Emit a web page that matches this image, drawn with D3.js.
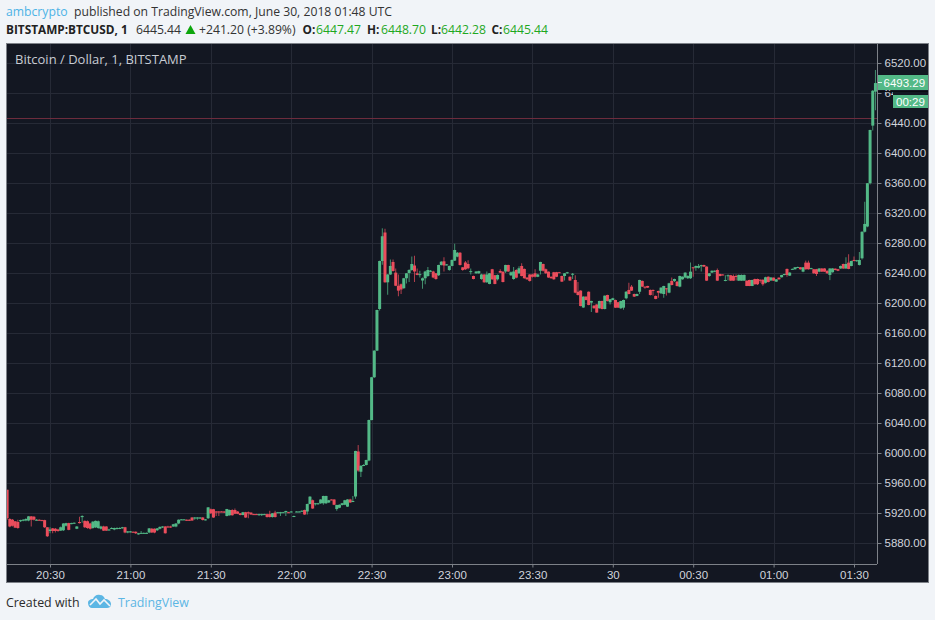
<!DOCTYPE html>
<html>
<head>
<meta charset="utf-8">
<title>BTCUSD</title>
<script src="https://cdn.jsdelivr.net/npm/d3@7"></script>
<style>
	html, body { margin: 0; padding: 0; background: #f1f4f8; }
	svg { display: block; }
	text { font-family: "Open Sans", sans-serif; }
	.axis text { font-family: "Liberation Sans", Arial, sans-serif; font-size: 11.5px; fill: #d1d4dc; }
</style>
</head>
<body>
<svg id="chart" width="935" height="620"></svg>
<script>
// one candle per minute, ten to a line
const opens = [
	5951,5912,5911,5909,5908,5909,5910,5910,5910,5915.5,
	5915,5910.5,5911,5910.5,5910.5,5901,5896,5899.5,5899,5898,
	5896.5,5897,5903,5906.5,5906,5906,5899,5908,5914.5,5909.5,
	5909,5906,5900,5901,5900,5899,5902,5902,5897,5899.5,
	5898,5899,5899,5900,5901,5894,5894.5,5895,5895,5891.5,
	5893,5893,5893,5894,5899,5899,5897,5899,5901,5902,
	5902,5902,5902,5902,5906,5911,5911,5911,5911,5914,
	5913,5913,5913,5914,5910.7,5913,5925,5925,5922,5922,
	5922,5922,5916,5917,5924,5924,5922,5919.5,5917.3,5921,
	5921,5920.5,5918.5,5918.5,5918,5918,5918,5918.5,5918.5,5914.6,
	5920.5,5920,5920,5920.5,5921,5921,5921.5,5915,5921.5,5921.5,
	5922.5,5924,5922,5932,5937,5932.5,5932.5,5933,5933,5933,
	5934,5938,5938,5925.3,5927,5930.7,5931,5928.5,5938,5935,
	5942,6002,5975,5983,5984,5990,6044,6101,6136.5,6192,
	6256,6294,6227.6,6238,6254.7,6240.5,6223,6225,6219.7,6233,
	6240,6244,6250,6239.6,6238,6230,6233,6236,6242,6242,
	6239.6,6237,6250.7,6255.6,6251,6244,6249.4,6256.5,6261.8,6267,
	6247.6,6254,6252,6242,6236,6239.6,6239.6,6232,6238,6227.6,
	6225.4,6245,6237,6231.6,6242.7,6241.8,6242,6250.7,6237,6232,
	6244,6239.6,6249.3,6245.4,6233.8,6238,6238,6239.6,6235,6243,
	6252,6245,6241.8,6235,6241,6241,6241,6236,6236,6239.6,
	6235,6238.7,6230.7,6215,6216.5,6194,6208.5,6215,6200.5,6196.5,
	6198,6193,6202.7,6192,6210.7,6201,6204,6204,6201,6193,
	6193.8,6206.3,6217.4,6221.8,6212,6209.4,6215,6229.4,6221.8,6222.7,
	6217.4,6217.4,6209.4,6216,6213,6212,6219.6,6213.8,6229.4,6229.4,
	6228.5,6221.8,6231.6,6234,6233,6233,6247.6,6247,6247,6249,
	6250.7,6248.5,6236,6240.5,6242.7,6244,6238.7,6238,6229.8,6236.5,
	6237,6236,6236,6229.8,6229.8,6229.8,6229.8,6230.7,6222.7,6232,
	6232,6231,6231,6227,6235,6230,6233.8,6228.5,6233.8,6234.3,
	6237.4,6245.4,6236.5,6245,6245,6247.6,6247.6,6241.8,6253.8,6253.8,
	6246,6245,6245,6241.8,6246,6246,6243,6237.4,6241,6245.8,
	6245,6246,6252,6246,6253.8,6249.3,6257.4,6256,6250.7,6259.6,
	6295,6302,6359.7,6436.5,6481.8
];
const highs = [
	5951,5913,5912,5909,5911,5911,5912,5913,5916,5916,
	5916,5912,5911.5,5911,5911,5901,5901,5900,5900,5899,
	5902,5906.5,5907,5907,5907,5907.5,5902.5,5915,5917,5910,
	5910,5907,5909,5910,5910,5903,5903,5902.5,5899,5901,
	5900.5,5901,5901,5901.5,5901.5,5896,5896,5895.5,5895.5,5893.5,
	5896,5894,5894,5900,5900,5899.5,5900,5902,5902.5,5902.5,
	5903,5903,5905.5,5906.5,5911.5,5912,5912,5911.5,5911.5,5914.5,
	5914.5,5914.5,5914.5,5914.5,5912,5928,5926,5925.5,5922.5,5922.5,
	5922.5,5922.5,5925.5,5924.5,5925,5926,5922.5,5920,5921.5,5921.5,
	5922,5921,5919,5919,5919,5919,5919,5919,5923,5920,
	5923,5921.5,5921.5,5921.5,5923,5921.5,5922.5,5916.5,5922.5,5922.5,
	5923.5,5924.5,5932.5,5942.5,5938,5933.5,5933.5,5938.5,5943,5943,
	5937.5,5938.5,5938.5,5931,5931.5,5933.5,5937.5,5938.5,5939,5942.7,
	6003,6010.6,5983.5,5985,5991,6044.5,6101.5,6137,6191,6256.5,
	6299.6,6299,6238.5,6258,6258,6246,6238,6226,6233.5,6240,
	6245,6262,6263,6246,6243,6234,6243,6248,6244,6243,
	6240,6251,6256,6261,6252,6250,6258,6279,6268,6268,
	6248,6256,6257,6246,6236.5,6242.5,6243,6239,6238.5,6242,
	6240,6245.5,6237.5,6238,6245,6242,6251,6251,6242,6248,
	6245,6249,6253,6246,6234.5,6238.5,6239,6245,6239,6255,
	6252.5,6246,6242,6235.5,6241.5,6241.5,6241.5,6236.5,6240,6241.5,
	6235.5,6240,6237,6228,6217,6209,6209,6215.5,6203,6197,
	6198.5,6203,6203,6210,6211,6205.5,6207,6204.5,6201.5,6203,
	6204.5,6216,6227,6224,6212.5,6212.5,6231,6230,6222,6223,
	6218,6218,6210,6216.5,6221,6223,6220,6227,6234,6232.5,
	6229,6236.5,6235.5,6241,6237,6254,6248,6250,6252,6251,
	6251,6249,6240,6243.5,6243.5,6246,6239,6238.5,6237,6238,
	6237.5,6238,6238,6238,6238,6238,6230,6231,6231,6232.5,
	6232.5,6231.5,6231.5,6235,6235.5,6234.5,6234,6232,6234,6237.5,
	6239,6246,6241,6246,6248,6248.5,6248,6248,6256.5,6256.5,
	6247,6245.5,6245.5,6246.5,6246.5,6246.5,6243.5,6246.5,6246.5,6246,
	6245.5,6250,6252.5,6261,6265,6256.5,6262,6257.5,6268,6295.5,
	6335,6360,6431,6484,6510.7
];
const lows = [
	5911,5901,5902,5900,5899,5908,5909,5909,5909,5902,
	5910,5910,5910,5909.5,5900,5888,5893,5893,5894,5895,
	5896,5896,5902,5897,5905,5905.5,5898.5,5906,5907,5900,
	5899,5898,5899,5900,5899,5898,5896,5896,5896.5,5899,
	5897,5898,5898.5,5899,5893,5893,5894,5894,5892,5891,
	5892.5,5892.5,5892.5,5893,5893.5,5893,5896,5898,5900,5892.5,
	5900.5,5900,5901.5,5901,5905,5910.5,5910.5,5909.5,5909.5,5909.5,
	5911,5911,5912,5910,5910,5912,5919,5913.5,5916,5916,
	5921,5920,5915.5,5916.5,5916.5,5918.5,5918.5,5917,5917,5913.5,
	5913,5917.5,5917.5,5917.5,5916,5916,5917.5,5914,5914,5914,
	5914,5919.5,5916,5920,5916,5920,5921,5914.5,5921,5921,
	5922,5917.5,5918,5931.5,5925.5,5930,5931,5932,5931,5932,
	5933.5,5937,5930.5,5923,5926.5,5930,5930.5,5928,5933.5,5934.5,
	5939,5975,5968,5982.5,5983.5,5989,6043.5,6100,6136,6190,
	6251,6227,6211,6237.5,6242,6222.5,6209,6212,6219,6226,
	6228,6243,6228,6237,6234,6219,6225,6235,6241,6233,
	6231,6236,6250,6242,6250,6243,6249,6256,6261,6250,
	6243,6244,6245,6238,6231.5,6239,6239,6231,6227,6227,
	6225,6231,6225,6230,6240,6227.5,6240,6241.5,6236,6231,
	6233,6239,6235.5,6232.5,6231,6228.5,6234,6234,6234.5,6238,
	6242,6239,6233.5,6232.5,6231,6234.5,6240,6228,6230,6239,
	6229.5,6232,6213,6210,6195.5,6193.5,6203.5,6197,6188,6192.5,
	6187,6192.5,6191.5,6191.5,6202,6198,6203.5,6193.5,6193.5,6192,
	6191,6205,6211.5,6216,6208,6209,6212,6221.5,6219,6220,
	6210,6210,6205,6207,6212,6207,6210,6213,6223.5,6228,
	6222,6221,6231,6233,6232,6232,6235,6243,6246,6242,
	6248,6229.5,6235,6240,6241,6229.5,6235.5,6237,6229,6230,
	6229.5,6229.5,6230,6229.5,6229.5,6229.5,6222.5,6222.5,6222.5,6224.5,
	6224,6227,6223,6226,6227.5,6229.5,6229.5,6228,6231,6234,
	6237,6235,6236,6244.5,6244.5,6247,6244.5,6241,6244.5,6244.5,
	6245,6239,6236,6241,6241.5,6241.5,6239,6230.5,6240.5,6243.5,
	6242.5,6245.5,6245.5,6245.5,6245,6249,6255.5,6255,6250,6258,
	6294,6301,6358,6430,6457
];
const closes = [
	5913,5902,5903,5900.5,5900,5910.5,5911,5912,5915.5,5911,
	5911,5911,5910.5,5910,5901,5889,5898,5896,5896,5896,
	5901,5906,5906.5,5897.5,5906.5,5907,5902,5906.5,5916,5901,
	5900,5899,5908.5,5909.5,5909,5902,5896.5,5896.5,5898,5900,
	5900,5900,5900,5901,5894,5895.5,5895.5,5894.5,5893,5893,
	5893.5,5893.5,5893.5,5899.5,5894,5894,5899.5,5901.5,5902,5893,
	5901,5901,5905,5906,5911,5911.5,5911.5,5910,5910,5910,
	5914,5914,5914,5910.7,5911.5,5927.5,5919.5,5914,5921.5,5921.5,
	5921.5,5920.5,5925.3,5924,5917,5919,5919,5917.3,5921,5914,
	5919.5,5918,5918,5918,5918.5,5918.5,5918.5,5914.6,5914.6,5919.6,
	5914.6,5921,5921,5921,5922.7,5920.5,5922,5916,5922,5922,
	5923,5918,5932,5941.8,5926,5933,5933,5938,5942.7,5942.7,
	5937,5937.5,5931,5930.7,5931,5933,5937,5938,5934,5936,
	6002.7,5976.6,5983,5984,5990.7,6044,6101,6136.5,6190.7,6256,
	6289,6227.6,6238,6249.4,6242.7,6223,6216.5,6218,6233,6239.6,
	6244,6252,6242,6237.4,6238.5,6233,6242,6244,6243,6234,
	6232,6250.7,6255,6250,6251.5,6249.4,6257.4,6270.7,6267,6250.7,
	6244,6245,6246.3,6242.5,6232,6242,6242.5,6238,6227.6,6238,
	6239.6,6231.6,6225.4,6237.4,6240.5,6228,6250.7,6242,6241,6242,
	6233.8,6246.3,6236,6233,6231.6,6229.4,6235,6235,6238,6254.7,
	6243,6239.6,6234,6233,6231.6,6235,6240.5,6228.5,6239.6,6241,
	6230,6239,6213.8,6210.7,6196,6208.5,6204,6197.4,6202.7,6193,
	6187.2,6202.7,6192,6209.8,6202.7,6205,6206.3,6193.8,6193.8,6202.7,
	6204,6215,6212,6216.5,6208.5,6212,6230.7,6221.8,6221.5,6220.5,
	6210.7,6217,6205.4,6213.8,6220.5,6222.7,6219,6226.3,6224,6232,
	6222.7,6236,6235,6240.5,6236,6241.8,6247,6249.3,6249.3,6250.5,
	6248.5,6229.8,6239.6,6243,6243,6229.8,6236,6237.5,6230.7,6237,
	6229.8,6229.8,6235.5,6237.4,6237.4,6237.4,6222.7,6222.7,6230.7,6225,
	6225,6230,6225,6234.3,6228,6234,6229.8,6231.6,6231.6,6237.4,
	6238.7,6237.4,6240.5,6245.5,6247.6,6248,6245,6247.6,6245,6245,
	6246.5,6239.6,6238.7,6246,6241.8,6241.8,6239.6,6246,6246,6244,
	6243,6249.3,6246,6252,6245.4,6256,6256,6257,6257.4,6295,
	6305.4,6359.7,6430.7,6483,6493.29
];

const priceTicks = [5880,5920,5960,6000,6040,6080,6120,6160,6200,6240,6280,6320,6360,6400,6440,6480,6520];
const timeTickBars = [16,46,76,106,136,166,196,226,256,286,316];
const timeTickLabels = ["20:30","21:00","21:30","22:00","22:30","23:00","23:30","30","00:30","01:00","01:30"];

const lastPrice = 6493.29;
const prevClose = 6445.44;
const countdown = "00:29";

const width = 935, height = 620;
const panel = { left: 6.5, top: 43.5, right: 928.5, bottom: 582.5 };
const plot = { left: 7, top: 44, right: 877, bottom: 564 };

const green = "#53b987", red = "#eb4d5c";

const svg = d3.select("#chart");

// header lines above the chart
function addText(x, y, str, color, weight, size) {
	return svg.append("text")
		.attr("x", x).attr("y", y)
		.attr("fill", color)
		.attr("font-weight", weight || "normal")
		.attr("font-size", size || 12.2)
		.text(str);
}

addText(6, 16, "ambcrypto", "#4db3e6");
addText(74, 16, "published on TradingView.com, June 30, 2018 01:48 UTC", "#333");
addText(6, 34, "BITSTAMP:BTCUSD, 1", "#222", "bold", 11.8);
addText(136, 34, "6445.44", "#333");
svg.append("path").attr("d", "M190.5,25 L195.5,34 L185.5,34 Z").attr("fill", "#0da60d");
addText(199, 34, "+241.20 (+3.89%)", "#333");
addText(302.5, 34, "O:", "#222", "bold", 11.8);
addText(316, 34, "6447.47", "#1fa81f");
addText(367, 34, "H:", "#222", "bold", 11.8);
addText(381, 34, "6448.70", "#1fa81f");
addText(431, 34, "L:", "#222", "bold", 11.8);
addText(441, 34, "6442.28", "#1fa81f");
addText(491.5, 34, "C:", "#222", "bold", 11.8);
addText(503, 34, "6445.44", "#1fa81f");

// dark panel
svg.append("rect")
	.attr("x", panel.left).attr("y", panel.top)
	.attr("width", panel.right - panel.left)
	.attr("height", panel.bottom - panel.top)
	.attr("fill", "#131722")
	.attr("stroke", "#7d8188");

svg.append("clipPath").attr("id", "plot-clip")
	.append("rect")
	.attr("x", plot.left).attr("y", plot.top)
	.attr("width", plot.right - plot.left)
	.attr("height", plot.bottom - plot.top);

// 20:30 sits at bar 16 and 01:30 at bar 316
const x = d3.scaleLinear().domain([16, 316]).range([50, 854]);
const y = d3.scaleLinear().domain([5880, 6520]).range([543, 63]);

// grid
const grid = svg.append("g").attr("stroke", "#262a36").attr("stroke-width", 1);

grid.selectAll(".grid-h")
	.data(priceTicks)
	.join("line")
	.attr("class", "grid-h")
	.attr("x1", plot.left).attr("x2", plot.right)
	.attr("y1", d => Math.round(y(d)) + 0.5)
	.attr("y2", d => Math.round(y(d)) + 0.5);

grid.selectAll(".grid-v")
	.data(timeTickBars)
	.join("line")
	.attr("class", "grid-v")
	.attr("y1", plot.top).attr("y2", plot.bottom)
	.attr("x1", d => Math.round(x(d)) + 0.5)
	.attr("x2", d => Math.round(x(d)) + 0.5);

// previous close line
svg.append("line")
	.attr("x1", plot.left).attr("x2", plot.right)
	.attr("y1", Math.round(y(prevClose)) - 0.5)
	.attr("y2", Math.round(y(prevClose)) - 0.5)
	.attr("stroke", "#6d2c3d");

// candles
const bars = d3.range(opens.length);
const candleArea = svg.append("g").attr("clip-path", "url(#plot-clip)");
const candleColor = i => closes[i] >= opens[i] ? green : red;

candleArea.selectAll(".wick")
	.data(bars)
	.join("line")
	.attr("class", "wick")
	.attr("x1", x).attr("x2", x)
	.attr("y1", i => y(highs[i]))
	.attr("y2", i => y(lows[i]))
	.attr("stroke", candleColor)
	.attr("stroke-opacity", 0.75);

const candleWidth = 3;
candleArea.selectAll(".body")
	.data(bars)
	.join("rect")
	.attr("class", "body")
	.attr("x", i => x(i) - candleWidth / 2)
	.attr("width", candleWidth)
	.attr("y", i => y(Math.max(opens[i], closes[i])))
	.attr("height", i => Math.max(1, Math.abs(y(opens[i]) - y(closes[i]))))
	.attr("fill", candleColor);

// axes
const axisColor = "#7d8188";

const priceAxis = d3.axisRight(y)
	.tickValues(priceTicks)
	.tickFormat(d3.format(".2f"))
	.tickSize(4)
	.tickPadding(3);

const gPrice = svg.append("g")
	.attr("class", "axis")
	.attr("transform", `translate(${plot.right + 0.5},0)`)
	.call(priceAxis);
gPrice.select(".domain").attr("d", `M0,${plot.top}V${plot.bottom}`).attr("stroke", axisColor);
gPrice.selectAll(".tick line").attr("stroke", axisColor);

const timeAxis = d3.axisBottom(x)
	.tickValues(timeTickBars)
	.tickFormat((d, i) => timeTickLabels[i])
	.tickSize(3)
	.tickPadding(3);

const gTime = svg.append("g")
	.attr("class", "axis")
	.attr("transform", `translate(0,${plot.bottom + 0.5})`)
	.call(timeAxis);
gTime.select(".domain").attr("d", `M${plot.left},0H${plot.right}`).attr("stroke", axisColor);
gTime.selectAll(".tick line").attr("stroke", axisColor);

// last price labels on the scale, they sit over the 6480 tick
svg.append("rect")
	.attr("x", plot.right + 1).attr("y", 75)
	.attr("width", panel.right - plot.right - 1.5).attr("height", 15)
	.attr("fill", green);
svg.append("line")
	.attr("x1", plot.right + 1).attr("x2", plot.right + 5)
	.attr("y1", 82.5).attr("y2", 82.5)
	.attr("stroke", "#d8efe4");
svg.append("text")
	.attr("x", 883.5).attr("y", 87)
	.attr("fill", "#fff")
	.attr("font-size", 11.5)
	.style("font-family", "'Liberation Sans', Arial, sans-serif")
	.text(lastPrice.toFixed(2));

// the part of the tick label that would show right of the "64"
svg.append("rect")
	.attr("x", 893).attr("y", 90)
	.attr("width", panel.right - 893 - 0.5).attr("height", 5)
	.attr("fill", "#131722");
svg.append("line")
	.attr("x1", plot.right + 1).attr("x2", panel.right - 0.5)
	.attr("y1", 91.5).attr("y2", 91.5)
	.attr("stroke", "#0a0c12");

svg.append("rect")
	.attr("x", 893).attr("y", 95)
	.attr("width", panel.right - 893 - 0.5).attr("height", 13)
	.attr("fill", green);
svg.append("text")
	.attr("x", 896).attr("y", 105.5)
	.attr("fill", "#fff")
	.attr("font-size", 11.5)
	.style("font-family", "'Liberation Sans', Arial, sans-serif")
	.text(countdown);

// chart title
addText(15, 64, "Bitcoin / Dollar, 1, BITSTAMP", "#c8ccd4", "normal", 13);

// footer
addText(6, 607, "Created with", "#2b2b2b", "normal", 12.4);
addText(118, 607, "TradingView", "#5cb6e4", "normal", 12.4);

const logo = svg.append("g").attr("transform", "translate(88,594)");
logo.append("path")
	.attr("d", "M0,9 C0,6 3,5 5,5 C6,2 9,0 12,1 C15,1 16,3 17,5 C20,5 23,7 23,10 C23,13 21,14 19,14 L4,14 C2,14 0,12 0,9 Z")
	.attr("fill", "#5cb6e4");
logo.append("path")
	.attr("d", "M2,11 L8,5 L12,10 L16,6 L22,12")
	.attr("fill", "none")
	.attr("stroke", "#f1f4f8")
	.attr("stroke-width", 1.6);
</script>
</body>
</html>
